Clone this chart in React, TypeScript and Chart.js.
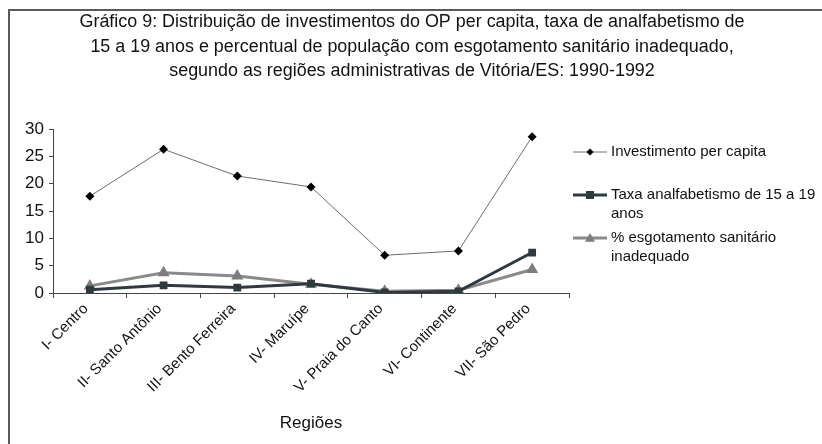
import React, { useEffect, useRef } from "react";
import { Chart, registerables } from "chart.js";

Chart.register(...registerables);

const categories = [
  "I- Centro",
  "II- Santo Antônio",
  "III- Bento Ferreira",
  "IV- Maruípe",
  "V- Praia do Canto",
  "VI- Continente",
  "VII- São Pedro",
];
const investimento = [17.7, 26.3, 21.4, 19.4, 6.9, 7.7, 28.6];
const taxaAnalfabetismo = [0.6, 1.4, 1.0, 1.7, 0.1, 0.3, 7.4];
const esgotamento = [1.3, 3.7, 3.1, 1.6, 0.3, 0.5, 4.3];

const seriesNames = [
  "Investimento per capita",
  "Taxa analfabetismo de 15 a 19 anos",
  "% esgotamento sanitário inadequado",
];
const legendLines = [
  ["Investimento per capita"],
  ["Taxa analfabetismo de 15 a 19", "anos"],
  ["% esgotamento sanitário", "inadequado"],
];
const titleLines = [
  "Gráfico 9: Distribuição de investimentos do OP per capita, taxa de analfabetismo de",
  "15 a 19 anos e percentual de população com esgotamento sanitário inadequado,",
  "segundo as regiões administrativas de Vitória/ES: 1990-1992",
];
const xAxisTitle = "Regiões";
const yMin = 0;
const yMax = 30;
const yStep = 5;

const FONT = '"Liberation Sans", Arial, sans-serif';

const COLORS = {
  inv: { line: "#6e6e6e", point: "#000000" },
  taxa: { line: "#2d3b3e", point: "#2d3b3e" },
  esg: { line: "#8a8a8a", point: "#7d7d7d" },
};

function drawMarker(ctx: CanvasRenderingContext2D, style: string, x: number, y: number, r: number, color: string) {
  ctx.save();
  ctx.fillStyle = color;
  ctx.beginPath();
  if (style === "rectRot") {
    ctx.moveTo(x, y - r);
    ctx.lineTo(x + r, y);
    ctx.lineTo(x, y + r);
    ctx.lineTo(x - r, y);
  } else if (style === "rect") {
    ctx.rect(x - r, y - r, 2 * r, 2 * r);
  } else {
    ctx.moveTo(x, y - r);
    ctx.lineTo(x + r, y + r * 0.75);
    ctx.lineTo(x - r, y + r * 0.75);
  }
  ctx.closePath();
  ctx.fill();
  ctx.restore();
}

const framePlugin = {
  id: "frame",
  beforeDraw(chart: any) {
    const ctx = chart.ctx as CanvasRenderingContext2D;
    ctx.save();
    ctx.fillStyle = "#ffffff";
    ctx.fillRect(0, 0, chart.width, chart.height);
    ctx.fillStyle = "#5a5a5a";
    ctx.fillRect(8, 9, 2, chart.height);
    ctx.fillRect(8, 9, chart.width, 2);
    ctx.restore();
  },
  afterDraw(chart: any) {
    const ctx = chart.ctx as CanvasRenderingContext2D;
    ctx.save();
    // title (narrow look: horizontally condensed Liberation Sans)
    ctx.fillStyle = "#111111";
    ctx.font = "18px " + FONT;
    ctx.textAlign = "center";
    ctx.textBaseline = "middle";
    const w0 = ctx.measureText(titleLines[0]).width;
    const sx = w0 > 0 ? 665 / w0 : 1;
    const titleY = [22, 47, 71];
    titleLines.forEach((t, i) => {
      ctx.save();
      ctx.translate(412, titleY[i]);
      ctx.scale(sx, 1);
      ctx.fillText(t, 0, 0);
      ctx.restore();
    });

    // legend
    const items = [
      { lines: legendLines[0], y: 152, lw: 1, line: COLORS.inv.line, style: "rectRot", r: 3.5, pc: COLORS.inv.point },
      { lines: legendLines[1], y: 195, lw: 3, line: COLORS.taxa.line, style: "rect", r: 4, pc: COLORS.taxa.point },
      { lines: legendLines[2], y: 238, lw: 3, line: COLORS.esg.line, style: "triangle", r: 5, pc: COLORS.esg.point },
    ];
    ctx.font = "15px " + FONT;
    ctx.textAlign = "left";
    items.forEach((it) => {
      ctx.strokeStyle = it.line;
      ctx.lineWidth = it.lw;
      ctx.beginPath();
      ctx.moveTo(573, it.y);
      ctx.lineTo(607, it.y);
      ctx.stroke();
      drawMarker(ctx, it.style, 590, it.y, it.r, it.pc);
      ctx.fillStyle = "#111111";
      it.lines.forEach((l, j) => ctx.fillText(l, 611, it.y + j * 19));
    });
    ctx.restore();
  },
};

export default function App() {
  const ref = useRef<HTMLCanvasElement | null>(null);
  useEffect(() => {
    if (!ref.current) return;
    const chart = new Chart(ref.current, {
      type: "line",
      data: {
        labels: categories,
        datasets: [
          {
            label: seriesNames[0],
            data: investimento,
            borderColor: COLORS.inv.line,
            borderWidth: 1,
            pointStyle: "rectRot",
            pointRadius: 4.5,
            pointBackgroundColor: COLORS.inv.point,
            pointBorderColor: COLORS.inv.point,
            pointBorderWidth: 0,
            tension: 0,
          },
          {
            label: seriesNames[1],
            data: taxaAnalfabetismo,
            borderColor: COLORS.taxa.line,
            borderWidth: 3,
            pointStyle: "rect",
            pointRadius: 5.5,
            pointBackgroundColor: COLORS.taxa.point,
            pointBorderColor: COLORS.taxa.point,
            pointBorderWidth: 0,
            tension: 0,
          },
          {
            label: seriesNames[2],
            data: esgotamento,
            borderColor: COLORS.esg.line,
            borderWidth: 3,
            pointStyle: "triangle",
            pointRadius: 7,
            pointBackgroundColor: COLORS.esg.point,
            pointBorderColor: COLORS.esg.point,
            pointBorderWidth: 0,
            tension: 0,
          },
        ],
      },
      options: {
        animation: false,
        responsive: false,
        maintainAspectRatio: false,
        layout: { padding: { left: 0, right: 253, top: 129, bottom: 0 } },
        plugins: {
          legend: { display: false },
          title: { display: false },
          tooltip: { enabled: false },
        },
        scales: {
          x: {
            type: "category",
            offset: true,
            afterFit: (s: any) => {
              s.height = 151;
            },
            grid: {
              offset: true,
              drawOnChartArea: false,
              drawTicks: true,
              tickLength: 5,
              color: "#444444",
            },
            border: { color: "#444444", width: 1 },
            ticks: {
              color: "#111111",
              font: { family: FONT, size: 15 },
              minRotation: 45,
              maxRotation: 45,
              padding: 2,
              labelOffset: -4,
              autoSkip: false,
            },
            title: {
              display: true,
              text: xAxisTitle,
              color: "#111111",
              font: { family: FONT, size: 17 },
              padding: { top: 4, bottom: 10 },
            },
          },
          y: {
            min: yMin,
            max: yMax,
            afterFit: (s: any) => {
              s.width = 53;
            },
            grid: {
              drawOnChartArea: false,
              drawTicks: true,
              tickLength: 4,
              color: "#444444",
            },
            border: { color: "#444444", width: 1 },
            ticks: {
              stepSize: yStep,
              color: "#111111",
              font: { family: FONT, size: 17 },
              padding: 5,
            },
          },
        },
      },
      plugins: [framePlugin],
    });
    return () => chart.destroy();
  }, []);
  return (
    <div style={{ position: "absolute", left: 0, top: 0, width: 822, height: 444 }}>
      <canvas ref={ref} width={822} height={444} style={{ width: 822, height: 444, display: "block" }} />
    </div>
  );
}
